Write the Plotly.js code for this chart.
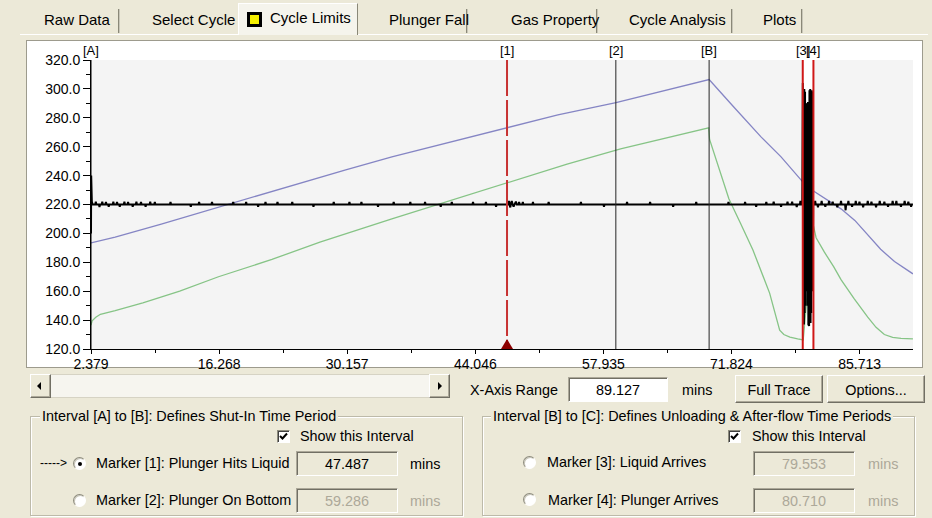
<!DOCTYPE html>
<html><head><meta charset="utf-8">
<script src="https://cdn.plot.ly/plotly-3.0.1.min.js"></script>
<style>
body{margin:0;width:932px;height:518px;overflow:hidden;background:#ece9d8;position:relative;font-family:"Liberation Sans",Arial,sans-serif;font-size:14.4px;color:#000;}
.a{position:absolute;box-sizing:border-box;}
.t{position:absolute;white-space:nowrap;line-height:16px;height:16px;}
.sep{position:absolute;top:9px;width:1px;height:24px;background:#8a8878;box-shadow:1px 0 0 #c9c7b9;}
.raised{background:#ece9d8;border-top:1px solid #fff;border-left:1px solid #fff;border-right:1px solid #716f64;border-bottom:1px solid #716f64;box-shadow:inset -1px -1px 0 #aca899;}
.sunk{border-top:1px solid #aca899;border-left:1px solid #aca899;border-right:1px solid #fff;border-bottom:1px solid #fff;box-shadow:inset 1px 1px 0 #716f64;}
.grp{border:1px solid #bdbaa9;box-shadow:inset 1px 1px 0 #fff,1px 1px 0 #fff;}
.lbl{background:#ece9d8;padding:0 2px;}
.radio{position:absolute;width:13px;height:13px;border-radius:50%;background:#fff;border:1px solid;border-color:#8d8b7d #fff #fff #8d8b7d;box-sizing:border-box;box-shadow:inset 1px 1px 0 #c9c7ba;}
.dot{position:absolute;left:4px;top:4px;width:4px;height:4px;border-radius:50%;background:#000;}
.chk{position:absolute;width:13px;height:13px;background:#fff;box-sizing:border-box;border:1px solid;border-color:#8d8b7d #fff #fff #8d8b7d;box-shadow:inset 1px 1px 0 #404040;}
.gray{color:#aca899;}
</style></head><body>

<!-- tab strip -->
<div class="a" style="left:238px;top:3px;width:120px;height:32px;background:#f5f4ec;border-top:1px solid #fff;border-left:1px solid #fff;border-right:1px solid #8a8878;"></div>
<div class="a" style="left:20px;top:34px;width:218px;height:1px;background:#fff"></div>
<div class="a" style="left:358px;top:34px;width:570px;height:1px;background:#fff"></div>
<div class="sep" style="left:118px"></div>
<div class="sep" style="left:466px"></div>
<div class="sep" style="left:596px"></div>
<div class="sep" style="left:731px"></div>
<div class="sep" style="left:801px"></div>
<div class="t" style="left:44px;top:12px;font-size:15px">Raw Data</div>
<div class="t" style="left:152px;top:12px;font-size:15px">Select Cycle</div>
<div class="a" style="left:247px;top:12px;width:15px;height:15px;background:#000"></div>
<div class="a" style="left:250px;top:15px;width:9px;height:9px;background:#f5f000"></div>
<div class="t" style="left:270px;top:10px;font-size:15px">Cycle Limits</div>
<div class="t" style="left:389px;top:12px;font-size:15px">Plunger Fall</div>
<div class="t" style="left:511px;top:12px;font-size:15px">Gas Property</div>
<div class="t" style="left:629px;top:12px;font-size:15px">Cycle Analysis</div>
<div class="t" style="left:763px;top:12px;font-size:15px">Plots</div>

<!-- chart panel -->
<div class="a" style="left:26px;top:40px;width:897px;height:328px;border:1px solid #9d9b8d;background:#fff"></div>
<div id="chart" class="a" style="left:27px;top:41px;width:895px;height:340px"></div>

<!-- scrollbar -->
<div class="a" style="left:30px;top:374px;width:420px;height:24px;background:#f6f5ef;border:1px solid #d6d3c4"></div>
<div class="a raised" style="left:30px;top:374px;width:21px;height:24px"></div>
<div class="a" style="left:37px;top:382px;width:0;height:0;border-top:4px solid transparent;border-bottom:4px solid transparent;border-right:4px solid #000"></div>
<div class="a raised" style="left:429px;top:374px;width:21px;height:24px"></div>
<div class="a" style="left:438px;top:382px;width:0;height:0;border-top:4px solid transparent;border-bottom:4px solid transparent;border-left:4px solid #000"></div>

<!-- x axis range -->
<div class="t" style="left:470px;top:382px">X-Axis Range</div>
<div class="a sunk" style="left:568px;top:377px;width:100px;height:25px;background:#fff"></div>
<div class="t" style="left:568px;top:382px;width:100px;text-align:center">89.127</div>
<div class="t" style="left:682px;top:382px">mins</div>
<div class="a raised" style="left:735px;top:375px;width:88px;height:28px"></div>
<div class="t" style="left:735px;top:382px;width:88px;text-align:center">Full Trace</div>
<div class="a raised" style="left:827px;top:375px;width:98px;height:28px"></div>
<div class="t" style="left:827px;top:382px;width:98px;text-align:center">Options...</div>

<!-- left group -->
<div class="a grp" style="left:30px;top:416px;width:433px;height:100px"></div>
<div class="t lbl" style="left:40px;top:408px">Interval [A] to [B]: Defines Shut-In Time Period</div>
<div class="chk" style="left:277px;top:430px"><svg width="11" height="11" style="position:absolute;left:0;top:0"><path d="M2,5 L4.5,7.5 L9,2.5" stroke="#000" stroke-width="2" fill="none"/></svg></div>
<div class="t" style="left:300px;top:428px">Show this Interval</div>
<div class="t" style="left:40px;top:455px;font-size:12px">-----&gt;</div>
<div class="radio" style="left:73px;top:457px"><div class="dot"></div></div>
<div class="t" style="left:96px;top:455px">Marker [1]: Plunger Hits Liquid</div>
<div class="a sunk" style="left:296px;top:451px;width:102px;height:25px"></div>
<div class="t" style="left:296px;top:456px;width:102px;text-align:center">47.487</div>
<div class="t" style="left:410px;top:456px">mins</div>
<div class="radio" style="left:73px;top:494px"></div>
<div class="t" style="left:96px;top:492px">Marker [2]: Plunger On Bottom</div>
<div class="a sunk" style="left:296px;top:488px;width:102px;height:25px"></div>
<div class="t gray" style="left:296px;top:493px;width:102px;text-align:center">59.286</div>
<div class="t gray" style="left:410px;top:493px">mins</div>

<!-- right group -->
<div class="a grp" style="left:482px;top:416px;width:433px;height:100px"></div>
<div class="t lbl" style="left:491px;top:408px">Interval [B] to [C]: Defines Unloading &amp; After-flow Time Periods</div>
<div class="chk" style="left:728px;top:430px"><svg width="11" height="11" style="position:absolute;left:0;top:0"><path d="M2,5 L4.5,7.5 L9,2.5" stroke="#000" stroke-width="2" fill="none"/></svg></div>
<div class="t" style="left:752px;top:428px">Show this Interval</div>
<div class="radio" style="left:523px;top:456px"></div>
<div class="t" style="left:547px;top:454px">Marker [3]: Liquid Arrives</div>
<div class="a sunk" style="left:753px;top:451px;width:102px;height:25px"></div>
<div class="t gray" style="left:753px;top:456px;width:102px;text-align:center">79.553</div>
<div class="t gray" style="left:868px;top:456px">mins</div>
<div class="radio" style="left:523px;top:493px"></div>
<div class="t" style="left:548px;top:492px">Marker [4]: Plunger Arrives</div>
<div class="a sunk" style="left:753px;top:488px;width:102px;height:25px"></div>
<div class="t gray" style="left:753px;top:493px;width:102px;text-align:center">80.710</div>
<div class="t gray" style="left:868px;top:493px">mins</div>

<script>
// ---- data (minutes, pressure) ----
const markerNames = ['[A]', '[1]', '[2]', '[B]', '[3]', '[4]'];
const markerTimes = [2.379, 47.487, 59.286, 69.40, 79.553, 80.710];

const xStart = 2.379;
const xRange = 89.127;
const xTickStep = 13.889;

const blueT = [2.379, 5, 10, 17.9, 25, 30, 35, 40, 47.5, 53, 59.3, 64, 69.4, 72, 75, 77.2, 79.5, 80.8, 81.85, 83.7, 85.2, 86.6, 88.0, 89.5, 91.5];
const blueV = [193.4, 197.5, 206.5, 221.5, 235, 244, 253, 261, 273, 282, 290.5, 298, 306.5, 288, 267, 253, 236, 229, 224.5, 217, 209, 199, 189, 180.5, 172];

const greenT = [2.379, 2.5, 2.9, 3.4, 5, 8, 12, 16.2, 22, 27.2, 35, 41, 47.5, 54, 59.8, 65, 69.35, 69.45, 70.45, 71.54, 72.8, 74.15, 75.96, 77.05, 77.5, 78.16, 79.0, 79.6, 80.72, 81.0, 81.9, 82.9, 83.7, 85.1, 86.6, 87.5, 88.4, 89.3, 90.2, 91.5];
const greenV = [136.5, 139.5, 142, 144, 146.5, 152, 160, 170, 182, 194, 210, 222, 235, 248, 258.5, 266.5, 273, 265, 246, 224, 207, 188.5, 158.7, 133, 130, 128.3, 127, 126.3, 205, 197, 187, 177, 168, 155, 142, 135, 130, 128, 127.3, 127];

const blackT = [
  2.379, 2.40, 2.43, 2.47, 2.55,
  2.84, 2.9, 2.96, 3.24, 3.3, 3.36, 3.54, 3.6, 3.66, 3.94, 4.0, 4.06, 4.24, 4.3, 4.36,
  4.74, 4.8, 4.86, 5.14, 5.2, 5.26, 5.44, 5.5, 5.56, 5.94, 6.0, 6.06, 6.34, 6.4, 6.46,
  6.84, 6.9, 6.96, 7.24, 7.3, 7.36, 7.74, 7.8, 7.86, 8.24, 8.3, 8.36, 8.74, 8.8, 8.86,
  9.24, 9.3, 9.36, 10.94, 11.0, 11.06, 13.14, 13.2, 13.26, 14.04, 14.1, 14.16,
  15.44, 15.5, 15.56, 17.74, 17.8, 17.86, 19.14, 19.2, 19.26, 20.44, 20.5, 20.56,
  21.24, 21.3, 21.36, 22.54, 22.6, 22.66, 24.14, 24.2, 24.26, 26.44, 26.5, 26.56,
  28.64, 28.7, 28.76, 30.34, 30.4, 30.46, 31.64, 31.7, 31.76, 33.44, 33.5, 33.56,
  35.14, 35.2, 35.26, 36.94, 37.0, 37.06, 38.54, 38.6, 38.66, 40.24, 40.3, 40.36,
  41.44, 41.5, 41.56, 43.74, 43.8, 43.86, 45.14, 45.2, 45.26, 46.24, 46.3, 46.36,
  47.64, 47.7, 47.76, 47.84, 47.9, 48.0, 48.1, 48.2, 48.3, 48.45, 48.55,
  48.74, 48.8, 48.86, 49.14, 49.2, 49.26, 50.24, 50.3, 50.36, 51.94, 52.0, 52.06,
  55.44, 55.5, 55.56, 57.94, 58.0, 58.06, 60.44, 60.5, 60.56, 62.94, 63.0, 63.06,
  65.44, 65.5, 65.56, 67.94, 68.0, 68.06, 71.44, 71.5, 71.56, 73.24, 73.3, 73.36,
  74.44, 74.5, 74.56, 75.54, 75.6, 75.66, 76.34, 76.4, 76.46, 77.14, 77.2, 77.26,
  77.84, 77.9, 77.96, 78.34, 78.4, 78.46, 78.84, 78.9, 78.96, 79.24, 79.3, 79.36, 79.50,
  79.56, 79.60, 79.64, 79.68, 79.72, 79.76, 79.80, 79.84, 79.88, 79.92, 79.96, 80.00, 80.04, 80.08, 80.12,
  80.16, 80.20, 80.24, 80.28, 80.32, 80.36, 80.40, 80.44, 80.48, 80.52, 80.56, 80.60, 80.64, 80.68,
  80.85, 80.9, 80.96, 81.14, 81.2, 81.26, 81.54, 81.6, 81.66, 81.94, 82.0, 82.06,
  82.34, 82.4, 82.46, 82.74, 82.8, 82.86, 83.24, 83.3, 83.36, 83.64, 83.7, 83.76,
  84.14, 84.2, 84.26, 84.44, 84.5, 84.56, 84.84, 84.9, 84.96, 85.24, 85.3, 85.36,
  85.64, 85.7, 85.76, 86.04, 86.1, 86.16, 86.54, 86.6, 86.66, 86.94, 87.0, 87.06,
  87.44, 87.5, 87.56, 87.84, 87.9, 87.96, 88.34, 88.4, 88.46, 88.74, 88.8, 88.86,
  89.24, 89.3, 89.36, 89.64, 89.7, 89.76, 90.14, 90.2, 90.26, 90.54, 90.6, 90.66,
  90.94, 91.0, 91.06, 91.24, 91.3, 91.36, 91.5];
const blackV = [
  200, 240, 214, 222, 220,
  220, 222, 220, 220, 218.3, 220, 220, 222, 220, 220, 221.8, 220, 220, 218.5, 220,
  220, 222, 220, 220, 221.8, 220, 220, 218.5, 220, 220, 222, 220, 220, 221.8, 220,
  220, 218.5, 220, 220, 222, 220, 220, 221.8, 220, 220, 218.5, 220, 220, 222, 220,
  220, 221.8, 220, 220, 221.8, 220, 220, 218.5, 220, 220, 221.8, 220,
  220, 221.8, 220, 220, 221.8, 220, 220, 221.8, 220, 220, 218.5, 220,
  220, 221.8, 220, 220, 221.8, 220, 220, 221.8, 220, 220, 218.5, 220,
  220, 221.8, 220, 220, 221.8, 220, 220, 221.8, 220, 220, 218.5, 220,
  220, 221.8, 220, 220, 221.8, 220, 220, 221.8, 220, 220, 218.5, 220,
  220, 221.8, 220, 220, 221.8, 220, 220, 221.8, 220, 220, 218.5, 220,
  220, 222.5, 220, 218, 220, 222.5, 220, 218.5, 220, 222, 220,
  220, 221.8, 220, 220, 221.8, 220, 220, 221.8, 220, 220, 221.8, 220,
  220, 221.8, 220, 220, 218.5, 220, 220, 221.8, 220, 220, 221.8, 220,
  220, 218.5, 220, 220, 221.8, 220, 220, 221.8, 220, 220, 221.8, 220,
  220, 218.5, 220, 220, 221.8, 220, 220, 222, 220, 220, 218.5, 220,
  220, 222, 220, 220, 222, 220, 220, 218.3, 220, 220, 222.5, 220, 220,
  304, 140, 303, 137, 300, 145, 298, 150, 290, 155, 288, 160, 286, 150, 291,
  137, 295, 136, 299, 140, 300, 138, 298, 145, 299, 158, 296, 160, 220,
  220, 222.5, 220, 220, 218, 220, 220, 222.5, 220, 220, 218.5, 220,
  220, 222.5, 220, 220, 222, 220, 220, 218, 220, 220, 222.5, 220,
  220, 216, 220, 220, 222.5, 220, 220, 218.5, 220, 220, 222.5, 220,
  220, 222, 220, 220, 218, 220, 220, 222.5, 220, 220, 222, 220,
  220, 218, 220, 220, 222.5, 220, 220, 222, 220, 220, 218.5, 220,
  220, 222.5, 220, 220, 222.5, 220, 220, 218.5, 220, 220, 222.5, 220,
  220, 222, 220, 220, 218.5, 220, 220];

// ---- chart ----
const FONT = 'Liberation Sans, Arial, sans-serif';
const traces = [
  {x: blueT, y: blueV, mode: 'lines', line: {color: '#8585c4', width: 1.3}, hoverinfo: 'skip'},
  {x: greenT, y: greenV, mode: 'lines', line: {color: '#86c486', width: 1.3}, hoverinfo: 'skip'},
  {x: blackT, y: blackV, mode: 'lines', line: {color: '#000', width: 2}, hoverinfo: 'skip'}
];

const lineStyle = {
  '[A]': {color: '#000', width: 1},
  '[1]': {color: '#c83232', width: 2, dash: '36px,4px'},
  '[2]': {color: '#262626', width: 1},
  '[B]': {color: '#262626', width: 1},
  '[3]': {color: '#d01818', width: 2},
  '[4]': {color: '#d01818', width: 2}
};

const shapes = [
  {type: 'rect', xref: 'x', yref: 'paper', x0: markerTimes[4], x1: markerTimes[5], y0: 0, y1: 1,
   fillcolor: '#ffffff', line: {width: 0}, layer: 'below'}
];
markerNames.forEach((n, i) => {
  shapes.push({type: 'line', xref: 'x', yref: 'paper', x0: markerTimes[i], x1: markerTimes[i], y0: 1, y1: 0,
    line: lineStyle[n], layer: 'above'});
});
// active-marker triangle at [1]
shapes.push({type: 'path', xref: 'x', yref: 'y', xsizemode: 'pixel', ysizemode: 'pixel',
  xanchor: markerTimes[1], yanchor: 120, path: 'M -6 0 L 6 0 L 0 10 Z',
  fillcolor: '#8b0000', line: {width: 0}, layer: 'above'});

const annotations = markerNames.map((n, i) => ({
  x: markerTimes[i], xref: 'x', y: 1, yref: 'paper', yanchor: 'bottom', xanchor: 'center',
  yshift: 0, text: n, showarrow: false, font: {family: FONT, size: 13, color: '#000'}
}));

const layout = {
  width: 895, height: 340,
  margin: {l: 64, r: 9, t: 19, b: 32},
  paper_bgcolor: 'rgba(0,0,0,0)', plot_bgcolor: '#f4f4f4',
  showlegend: false,
  font: {family: FONT, size: 14, color: '#000'},
  xaxis: {
    range: [xStart, xStart + xRange], tick0: xStart, dtick: xTickStep, tickformat: '.3f',
    ticks: 'outside', ticklen: 4, tickwidth: 1, tickcolor: '#000', ticklabelstandoff: -2,
    showline: true, linecolor: '#000', linewidth: 1, showgrid: false, zeroline: false,
    minor: {tick0: xStart, dtick: xTickStep / 2, ticks: 'outside', ticklen: 3, tickcolor: '#000', showgrid: false},
    tickfont: {family: FONT, size: 14, color: '#000'}, fixedrange: true
  },
  yaxis: {
    range: [120, 320], tick0: 120, dtick: 20, tickformat: '.1f',
    ticks: 'outside', ticklen: 7, tickwidth: 1, tickcolor: '#000',
    showline: true, linecolor: '#000', linewidth: 1, showgrid: false, zeroline: false,
    minor: {dtick: 10, ticks: 'outside', ticklen: 4, tickcolor: '#000', showgrid: false},
    tickfont: {family: FONT, size: 14, color: '#000'}, fixedrange: true
  },
  shapes: shapes,
  annotations: annotations
};

Plotly.newPlot('chart', traces, layout, {staticPlot: true, displayModeBar: false});
</script>
</body></html>
